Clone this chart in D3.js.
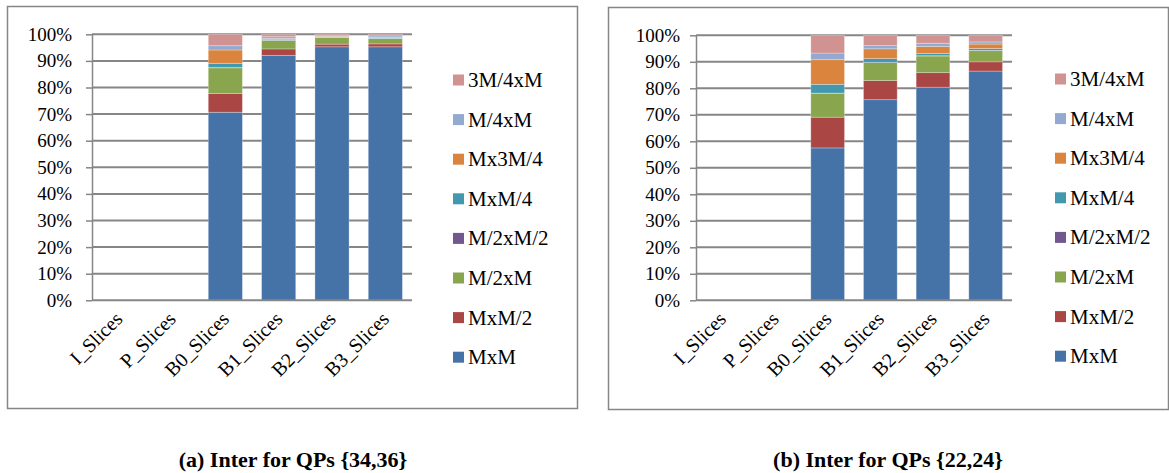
<!DOCTYPE html>
<html>
<head>
<meta charset="utf-8">
<script src="https://cdn.jsdelivr.net/npm/d3@7"></script>
<style>
  html, body { margin: 0; padding: 0; background: #fff; }
  svg { display: block; font-family: "Liberation Serif", "Times New Roman", serif; }
</style>
</head>
<body>
<svg width="1169" height="473"></svg>
<script>
// categories on the x axis
var categories = ["I_Slices", "P_Slices", "B0_Slices", "B1_Slices", "B2_Slices", "B3_Slices"];

// stacked series, bottom to top
var seriesNames = ["MxM", "MxM/2", "M/2xM", "M/2xM/2", "MxM/4", "Mx3M/4", "M/4xM", "3M/4xM"];
var seriesColors = ["#4572A7", "#AA4643", "#89A54E", "#71588F", "#4198AF", "#DB843D", "#93A9CF", "#D19392"];

var yTicks = [0, 10, 20, 30, 40, 50, 60, 70, 80, 90, 100];

// (a) Inter for QPs {34,36} - percent per category, order follows seriesNames
var qp3436 = [
  [0, 0, 0, 0, 0, 0, 0, 0],
  [0, 0, 0, 0, 0, 0, 0, 0],
  [70.7, 7.1, 9.6, 0.2, 1.5, 5.0, 1.6, 4.3],
  [92.1, 2.4, 3.2, 0.1, 0.2, 0.4, 0.7, 0.9],
  [95.3, 1.0, 2.5, 0.05, 0.1, 0.3, 0.2, 0.55],
  [95.3, 1.1, 2.0, 0.05, 0.15, 0.3, 0.5, 0.6]
];

// (b) Inter for QPs {22,24}
var qp2224 = [
  [0, 0, 0, 0, 0, 0, 0, 0],
  [0, 0, 0, 0, 0, 0, 0, 0],
  [57.5, 11.6, 9.0, 0.1, 3.3, 9.3, 2.5, 6.7],
  [75.7, 7.2, 6.8, 0.1, 1.4, 3.7, 1.2, 3.9],
  [80.4, 5.5, 6.3, 0.1, 0.9, 2.6, 1.2, 3.0],
  [86.5, 3.5, 4.2, 0.1, 0.7, 1.7, 0.8, 2.5]
];

var svg = d3.select("svg");
var serif = "'Liberation Serif', 'Times New Roman', serif";

function drawPanel(values, caption, lay) {
  var rows = categories.map(function(c, i) {
    var r = { cat: c };
    seriesNames.forEach(function(s, j) { r[s] = values[i][j]; });
    return r;
  });

  var x = d3.scaleBand().domain(categories).range([lay.left, lay.right]).paddingInner(0.36).paddingOuter(0.18);
  var y = d3.scaleLinear().domain([0, 100]).range([lay.bottom, lay.top]);
  var color = d3.scaleOrdinal().domain(seriesNames).range(seriesColors);

  // outer frame
  svg.append("rect")
    .attr("x", lay.box[0]).attr("y", lay.box[1])
    .attr("width", lay.box[2]).attr("height", lay.box[3])
    .attr("fill", "none").attr("stroke", "#868686").attr("stroke-width", 1.5);

  // gridlines
  svg.append("g").selectAll("line")
    .data(yTicks.filter(function(t) { return t > 0; }))
    .enter().append("line")
      .attr("x1", lay.left).attr("x2", lay.right)
      .attr("y1", function(d) { return y(d); }).attr("y2", function(d) { return y(d); })
      .attr("stroke", "#868686").attr("stroke-width", 2);

  // y axis
  var yAxis = svg.append("g")
    .attr("transform", "translate(" + lay.left + ",0)")
    .call(d3.axisLeft(y).tickValues(yTicks).tickFormat(function(d) { return d + "%"; })
      .tickSizeInner(6).tickSizeOuter(0).tickPadding(lay.tickPad));
  yAxis.select(".domain").attr("stroke", "#868686").attr("stroke-width", 1.5);
  yAxis.selectAll(".tick line").attr("stroke", "#868686").attr("stroke-width", 1.5);
  yAxis.selectAll("text").attr("font-size", 19).attr("fill", "#000")
    .attr("font-family", serif);

  // stacked bars
  var stacked = d3.stack().keys(seriesNames)(rows);
  svg.append("g").selectAll("g")
    .data(stacked)
    .enter().append("g")
      .attr("fill", function(d) { return color(d.key); })
    .selectAll("rect")
    .data(function(d) { return d; })
    .enter().append("rect")
      .attr("x", function(d) { return x(d.data.cat); })
      .attr("width", x.bandwidth())
      .attr("y", function(d) { return y(d[1]); })
      .attr("height", function(d) { return Math.max(0, y(d[0]) - y(d[1])); })
      .attr("stroke", "#fff").attr("stroke-opacity", 0.35).attr("stroke-width", 0.8);

  // x baseline
  svg.append("line")
    .attr("x1", lay.left).attr("x2", lay.right)
    .attr("y1", lay.bottom).attr("y2", lay.bottom)
    .attr("stroke", "#868686").attr("stroke-width", 2);

  // x labels, rotated 45 degrees, ending under each bar
  svg.append("g").selectAll("text")
    .data(categories)
    .enter().append("text")
      .attr("transform", function(d) {
        return "translate(" + (x(d) + x.bandwidth() / 2 + 5) + "," + (lay.bottom + 20) + ") rotate(-45)";
      })
      .attr("text-anchor", "end")
      .attr("font-size", 20)
      .attr("font-family", serif)
      .text(function(d) { return d; });

  // legend, top entry is last series
  var legend = svg.append("g").selectAll("g")
    .data(seriesNames.slice().reverse())
    .enter().append("g")
      .attr("transform", function(d, i) { return "translate(" + lay.legX + "," + (lay.legY + i * lay.legStep) + ")"; });
  legend.append("rect")
    .attr("x", 0).attr("y", -5.5).attr("width", 11).attr("height", 11)
    .attr("fill", function(d) { return color(d); });
  legend.append("text")
    .attr("x", 15).attr("y", 7)
    .attr("font-size", 21)
    .attr("font-family", serif)
    .text(function(d) { return d; });

  // caption below the frame
  svg.append("text")
    .attr("x", lay.capX).attr("y", 467)
    .attr("text-anchor", "middle")
    .attr("font-size", 22).attr("font-weight", "bold")
    .attr("font-family", serif)
    .text(caption);
}

drawPanel(qp3436, "(a) Inter for QPs {34,36}", {
  box: [7.5, 6.5, 570, 402],
  left: 92, right: 412, top: 34.3, bottom: 300.3,
  tickPad: 14,
  legX: 453, legY: 80, legStep: 39.6,
  capX: 293
});

drawPanel(qp2224, "(b) Inter for QPs {22,24}", {
  box: [608.5, 7.5, 560, 402],
  left: 696, right: 1012, top: 35.3, bottom: 300.3,
  tickPad: 10,
  legX: 1055, legY: 79, legStep: 39.6,
  capX: 888
});
</script>
</body>
</html>
